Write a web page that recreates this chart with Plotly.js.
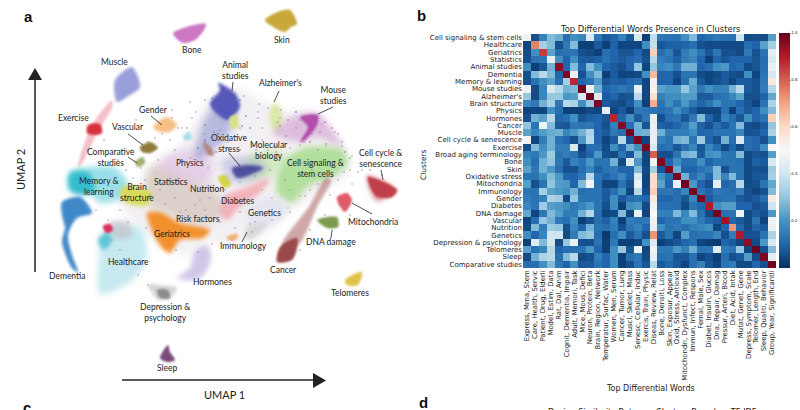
<!DOCTYPE html>
<html><head><meta charset="utf-8">
<script src="https://cdn.plot.ly/plotly-3.0.1.min.js"></script>
<style>html,body{margin:0;padding:0;background:#fff;overflow:hidden}#c{width:800px;height:410px}</style>
</head><body><div id="c"></div>
<script>
const clusters = ["Cell signaling & stem cells","Healthcare","Geriatrics","Statistics","Animal studies","Dementia","Memory & learning","Mouse studies","Alzheimer's","Brain structure","Physics","Hormones","Cancer","Muscle","Cell cycle & senescence","Exercise","Broad aging terminology","Bone","Skin","Oxidative stress","Mitochondria","Immunology","Gender","Diabetes","DNA damage","Vascular","Nutrition","Genetics","Depression & psychology","Telomeres","Sleep","Comparative studies"];
const words = ["Express, Mrna, Stem","Care, Health, Servic","Patient, Drug, Elderli","Model, Estim, Data","Rat, Dal, Anim","Cognit, Dementia, Impair","Adult, Memori, Task","Mice, Mous, Defici","Neuron, Protein, Beta","Brain, Region, Network","Temperatur, Surfac, Water","Women, Men, Serum","Cancer, Tumor, Lung","Muscl, Skelet, Mass","Senesc, Cellular, Induc","Exercis, Train, Physic","Diseas, Review, Relat","Bone, Densiti, Loss","Skin, Exposur, Appear","Oxid, Stress, Antioxid","Mitochondri, Dysfunct, Complex","Immun, Infect, Respons","Femal, Male, Sex","Diabet, Insulin, Glucos","Dna, Repair, Damag","Pressur, Arteri, Blood","Diet, Acid, Intak","Mutat, Genet, Gene","Depress, Symptom, Scale","Telomer, Length, End","Sleep, Qualiti, Behavior","Group, Year, Significantli"];
const presence = [
[.48,.06,.16,.28,.25,.12,.19,.17,.42,.14,.08,.10,.16,.08,.42,.03,.38,.14,.13,.13,.19,.28,.10,.12,.14,.13,.13,.40,.05,.06,.05,.22],
[.04,.75,.33,.28,.06,.14,.28,.03,.03,.08,.03,.09,.04,.04,.04,.19,.38,.07,.09,.09,.10,.12,.06,.05,.05,.05,.05,.05,.12,.10,.23,.33],
[.05,.19,.85,.23,.12,.13,.13,.06,.05,.03,.12,.10,.07,.07,.10,.05,.62,.12,.15,.07,.15,.19,.13,.07,.14,.06,.06,.05,.14,.06,.13,.45],
[.06,.13,.14,.45,.19,.10,.19,.08,.08,.09,.13,.10,.08,.10,.12,.06,.36,.15,.13,.09,.15,.17,.10,.03,.10,.07,.10,.10,.10,.07,.12,.42],
[.19,.03,.07,.26,.95,.10,.28,.10,.28,.19,.10,.08,.06,.10,.30,.04,.30,.17,.19,.14,.26,.26,.10,.12,.19,.21,.10,.12,.05,.07,.12,.46],
[.06,.28,.36,.28,.10,.97,.48,.06,.19,.28,.03,.08,.04,.04,.05,.19,.66,.10,.10,.06,.13,.13,.05,.04,.05,.08,.06,.05,.19,.04,.13,.42],
[.06,.13,.19,.23,.12,.33,.88,.10,.13,.21,.07,.09,.08,.10,.12,.04,.48,.10,.10,.04,.12,.25,.08,.04,.06,.08,.04,.08,.08,.06,.14,.55],
[.47,.05,.17,.42,.36,.26,.28,.99,.46,.26,.10,.12,.14,.12,.45,.04,.52,.23,.21,.21,.31,.23,.14,.19,.16,.16,.26,.36,.08,.06,.15,.36],
[.31,.05,.17,.31,.31,.21,.22,.42,.99,.44,.08,.10,.06,.07,.36,.04,.58,.16,.19,.19,.22,.22,.08,.08,.12,.13,.17,.23,.06,.06,.10,.24],
[.17,.14,.26,.33,.14,.36,.34,.19,.31,.97,.08,.06,.05,.08,.19,.03,.68,.13,.19,.13,.21,.14,.10,.13,.19,.13,.13,.10,.07,.04,.13,.34],
[.04,.04,.04,.19,.12,.03,.03,.03,.05,.04,.45,.04,.08,.03,.14,.13,.13,.12,.13,.19,.13,.08,.04,.04,.04,.13,.03,.12,.08,.10,.19,.28],
[.06,.26,.23,.36,.10,.12,.19,.07,.09,.10,.07,.88,.10,.19,.08,.14,.46,.06,.12,.13,.07,.14,.28,.10,.05,.16,.12,.07,.19,.10,.13,.62],
[.30,.13,.48,.28,.08,.07,.14,.13,.14,.10,.06,.16,.96,.12,.26,.07,.46,.09,.08,.10,.14,.22,.09,.06,.12,.08,.13,.28,.06,.05,.08,.30],
[.23,.17,.22,.25,.26,.17,.21,.26,.34,.10,.08,.14,.12,.99,.25,.26,.45,.26,.15,.15,.15,.19,.10,.11,.13,.13,.13,.17,.06,.07,.10,.34],
[.48,.04,.15,.26,.13,.10,.06,.21,.36,.10,.04,.08,.36,.06,.97,.04,.46,.16,.13,.26,.28,.13,.32,.10,.06,.26,.12,.42,.12,.10,.06,.19],
[.06,.28,.19,.26,.15,.15,.42,.03,.12,.12,.05,.19,.10,.26,.19,.97,.42,.12,.13,.07,.12,.17,.07,.17,.12,.05,.10,.05,.12,.10,.19,.50],
[.16,.14,.21,.32,.13,.15,.13,.06,.10,.21,.06,.05,.13,.07,.28,.04,.80,.06,.06,.13,.26,.28,.08,.19,.21,.13,.13,.28,.05,.07,.06,.22],
[.19,.12,.26,.30,.14,.08,.16,.13,.21,.13,.13,.26,.05,.43,.21,.04,.48,.97,.10,.19,.12,.12,.19,.10,.13,.13,.13,.12,.05,.09,.08,.42],
[.23,.14,.26,.21,.12,.06,.06,.12,.17,.09,.13,.14,.10,.10,.28,.05,.33,.07,.97,.25,.10,.10,.13,.15,.28,.06,.13,.13,.05,.06,.06,.32],
[.13,.13,.19,.28,.21,.10,.10,.14,.36,.13,.10,.13,.17,.10,.42,.04,.60,.19,.12,.98,.26,.12,.17,.10,.28,.17,.28,.13,.05,.07,.08,.33],
[.22,.06,.13,.30,.22,.21,.10,.28,.48,.12,.04,.04,.13,.07,.47,.04,.60,.23,.10,.48,.99,.21,.10,.06,.45,.10,.12,.36,.05,.06,.13,.24],
[.13,.13,.33,.23,.21,.19,.26,.12,.13,.13,.08,.12,.19,.04,.36,.05,.62,.13,.14,.12,.17,.98,.13,.10,.14,.13,.12,.15,.06,.04,.06,.28],
[.15,.13,.16,.34,.32,.05,.30,.13,.13,.13,.08,.19,.08,.12,.13,.10,.55,.10,.10,.12,.07,.17,.98,.08,.12,.13,.13,.08,.06,.08,.12,.55],
[.17,.13,.32,.22,.21,.19,.14,.17,.21,.13,.06,.19,.03,.19,.21,.05,.48,.12,.12,.12,.05,.13,.10,.90,.19,.22,.22,.10,.10,.06,.08,.40],
[.24,.04,.14,.28,.22,.15,.15,.26,.36,.12,.04,.05,.28,.04,.46,.04,.50,.16,.15,.28,.17,.28,.13,.05,.98,.12,.13,.47,.05,.08,.06,.21],
[.04,.12,.31,.26,.14,.12,.19,.03,.06,.12,.09,.16,.03,.15,.13,.14,.48,.10,.13,.13,.19,.19,.14,.10,.08,.92,.10,.08,.05,.13,.04,.48],
[.05,.28,.15,.32,.30,.06,.17,.10,.26,.13,.12,.15,.06,.13,.16,.10,.45,.19,.13,.14,.12,.15,.17,.19,.04,.10,.72,.10,.05,.10,.08,.46],
[.19,.10,.17,.40,.40,.05,.15,.28,.30,.12,.02,.12,.19,.08,.13,.06,.72,.08,.13,.04,.22,.12,.13,.13,.17,.06,.15,.90,.06,.06,.13,.34],
[.03,.44,.28,.40,.05,.31,.46,.06,.06,.13,.03,.14,.03,.03,.04,.19,.42,.03,.05,.07,.10,.12,.04,.03,.02,.10,.08,.04,.95,.05,.21,.42],
[.23,.13,.17,.36,.10,.12,.12,.13,.21,.10,.03,.19,.31,.07,.48,.04,.48,.14,.14,.21,.16,.25,.13,.13,.44,.15,.13,.31,.04,.99,.06,.28],
[.05,.26,.34,.36,.12,.28,.36,.05,.06,.15,.10,.19,.03,.12,.14,.05,.45,.12,.13,.07,.07,.12,.04,.06,.03,.12,.06,.08,.22,.05,.97,.45],
[.12,.12,.19,.28,.14,.10,.19,.08,.08,.13,.10,.19,.03,.06,.13,.07,.36,.08,.11,.08,.04,.12,.16,.07,.04,.13,.15,.05,.05,.10,.06,.99]
];
const colorbarTicks = [0.2,0.4,0.6,0.8,1.0];

// UMAP regions: [x, y] outline, UMAP axes shown without numbers
const cloud = [[135,190],[150,170],[175,150],[195,120],[215,92],[240,88],[262,100],[285,110],[310,112],[335,135],[350,160],[345,178],[325,190],[300,205],[275,225],[255,240],[225,245],[205,240],[185,255],[165,245],[148,235],[125,215],[118,195]];
const bone = [[173,33],[190,26],[206,24],[204,30],[195,40],[183,43],[175,37]];
const skin = [[265,20],[280,11],[290,10],[297,24],[291,27],[285,32],[275,28]];
const muscle = [[115,80],[132,67],[140,87],[127,97],[117,102]];
const exerciseTail = [[112,100],[104,108],[92,125],[82,150],[78,167],[81,165],[90,148],[100,128],[112,108]];
const exercise = [[88,125],[100,124],[102,133],[94,135],[87,133]];
const gender = [[153,127],[167,117],[177,125],[170,132],[160,132]];
const vascular = [[140,147],[150,142],[158,148],[150,153],[142,152]];
const comparative = [[135,162],[143,157],[145,163],[138,167]];
const memory = [[70,173],[113,167],[128,183],[123,197],[100,203],[90,193],[70,190]];
const memoryCore = [[70,173],[88,172],[95,190],[82,195],[70,190]];
const brainStruct = [[120,190],[130,185],[152,193],[147,205],[133,205],[122,200]];
const dementia = [[62,202],[80,197],[92,213],[77,218],[68,235],[72,255],[78,272],[72,268],[62,242],[65,228],[62,215]];
const healthcare = [[100,238],[113,225],[140,228],[147,248],[143,268],[130,282],[100,294],[98,272],[100,248]];
const healthEdge = [[98,240],[108,232],[112,240],[104,250]];
const healthGrey = [[110,222],[128,222],[132,236],[114,238]];
const healthRed = [[103,226],[110,224],[113,230],[106,233]];
const geriatrics = [[147,213],[160,212],[180,223],[210,230],[203,238],[180,240],[170,253],[162,248],[155,237]];
const hormones = [[177,278],[190,268],[195,250],[207,245],[211,255],[207,270],[199,279],[185,280]];
const depression = [[148,285],[160,285],[177,288],[170,298],[158,300],[152,293]];
const depressionCore = [[157,290],[168,290],[170,298],[160,298]];
const sleep = [[160,358],[168,345],[170,352],[175,360],[167,362]];
const animalBand = [[200,130],[215,105],[235,110],[225,140],[195,160]];
const animal = [[218,83],[235,93],[240,107],[227,120],[213,110],[210,103],[220,90]];
const alzheimer = [[275,103],[282,113],[278,133],[270,123],[270,110]];
const mouseHalo = [[273,133],[293,117],[318,113],[337,137],[343,147],[317,137],[300,142]];
const mouse = [[300,117],[318,115],[317,125],[305,140],[300,142],[308,127]];
const signaling = [[287,157],[307,147],[343,150],[348,163],[333,177],[307,187],[293,203],[277,193],[280,163]];
const molecular = [[250,155],[280,150],[285,165],[260,180],[240,175]];
const limeA = [[230,117],[237,115],[238,128],[231,128]];
const limeB = [[218,177],[226,175],[231,185],[224,188]];
const oxidative = [[232,168],[253,165],[263,168],[250,175],[237,178]];
const oxidativeHalo = [[222,160],[255,158],[268,168],[250,182],[230,182]];
const cyanDot = [[183,136],[189,132],[192,138],[186,141]];
const brownBit = [[203,142],[210,146],[214,155],[208,155]];
const physics = [[163,157],[193,150],[213,163],[207,183],[180,180],[160,170]];
const statistics = [[150,165],[190,180],[215,190],[225,215],[195,225],[165,212],[148,205]];
const diabetes = [[220,213],[223,197],[247,187],[270,178],[260,193],[240,207],[227,220]];
const genetics = [[247,207],[277,197],[287,213],[267,227],[250,227]];
const immunology = [[247,227],[267,223],[260,233],[247,240]];
const immunoOrange = [[227,237],[237,234],[237,239],[228,240]];
const cancerBand = [[326,178],[331,180],[318,205],[298,245],[282,245],[310,205]];
const cancer = [[280,247],[297,238],[297,248],[292,260],[277,262]];
const cycleHalo = [[367,175],[397,190],[377,202],[368,187]];
const cycle = [[368,177],[397,190],[392,197],[377,197],[370,187]];
const mitochondria = [[337,197],[347,193],[352,200],[345,212],[338,203]];
const dnaDamage = [[317,220],[337,217],[338,227],[327,228]];
const telomeres = [[345,280],[362,272],[358,285],[347,285]];

// sparse stray points
const strayX = [126,133,141,158,170,182,192,205,214,226,244,259,268,281,296,308,322,335,342,350,358,120,128,146,160,176,198,212,232,252,272,290,305,318,332,214,228,244,262,278,296,312,118,132,148,162,178,196,216,236,258,280,300,96,108,124,88,104,136,172,190,208,230,256,274,338,352,362,300,312,225,240,255,200,186,150,165,180,195,210,225,240,255,270,285,145,160,175,205,220,235,250,265,290,175,190,205,220,262,276,290,304,318,330,344,155,172,187,204,222,240,258,330,340,350,370,382,325,300,310,112,120,128,138,148];
const strayY = [170,178,168,160,140,128,118,100,96,90,96,104,108,110,112,118,124,132,146,158,172,210,222,228,236,250,252,244,240,232,220,212,196,184,176,132,142,138,128,122,128,134,160,150,142,134,128,112,108,100,112,118,120,210,220,200,150,140,120,110,102,168,150,150,146,180,184,170,160,170,200,212,222,200,210,195,204,212,205,198,190,182,176,170,180,180,190,198,210,222,228,224,216,190,150,158,142,130,140,152,148,142,150,166,172,138,118,128,134,122,128,118,195,205,215,170,175,215,250,230,240,250,265,275,285];
const strayPurpleX = [205,212,222,240,246,250,198,205,218,242,252,258,240,216];
const strayPurpleY = [125,98,88,100,116,128,148,140,134,126,146,156,150,152];
const strayMagentaX = [280,288,296,325,332,338,320,342,310,326,345,286];
const strayMagentaY = [126,120,112,122,128,134,132,142,142,144,152,136];
const strayGreenX = [268,276,284,300,326,350,352,300,288,272,262,310];
const strayGreenY = [150,146,143,145,146,170,156,196,208,198,190,190];

const regions = [
 [cloud,'rgba(226,220,228,0.42)',3.5],[statistics,'rgba(196,178,160,0.5)',4],[physics,'rgba(216,176,220,0.5)',4],
 [bone,'#cc76c4',1],[skin,'#c9a83a',.9],[muscle,'#9a9fdc',1.5],[exerciseTail,'rgba(236,160,170,0.65)',1],[exercise,'#d9303e',1.3],
 [gender,'rgba(245,185,122,.9)',1.6],[vascular,'#8f7a3a',1.2],[comparative,'#9fb070',1.2],[memory,'rgba(120,212,224,.75)',3],[memoryCore,'#35bccf',2.5],[brainStruct,'#d6d95a',2],
 [dementia,'#4089c8',1.5],[healthcare,'#c5e9ef',3],[healthEdge,'#5cc4d4',2],[healthGrey,'rgba(190,170,180,.45)',2],[healthRed,'#d8315b',1.2],
 [geriatrics,'#f2902e',2],[hormones,'#d2c6e6',2.5],[depression,'rgba(180,180,180,0.55)',1.5],[depressionCore,'#8c8c8c',1.2],[sleep,'#7a4a78',.8],
 [animalBand,'rgba(125,130,200,0.5)',3.5],[animal,'#5558b8',1.6],[alzheimer,'#dbe8a6',2.2],[mouseHalo,'rgba(190,120,190,0.42)',3],[mouse,'#b04eaa',1.2],
 [signaling,'rgba(170,221,146,.9)',3],[molecular,'rgba(205,232,184,.85)',3],[limeA,'#d8e08a',1.3],[limeB,'#d8d84a',1.2],[oxidativeHalo,'rgba(150,150,205,0.38)',3],[oxidative,'#4d4f9e',1.5],
 [cyanDot,'#a9dfe8',1],[brownBit,'#b08a80',1],[diabetes,'rgba(240,169,176,.85)',2.5],[genetics,'rgba(224,227,240,.85)',3],[immunology,'#d8d8d8',2],[immunoOrange,'#f3b072',.9],
 [cancerBand,'rgba(176,110,110,0.6)',1.5],[cancer,'#9a4a4a',1.2],[cycleHalo,'rgba(200,90,100,0.5)',2],[cycle,'#c0404a',1.2],[mitochondria,'#e05a68',1.2],[dnaDamage,'#7d9a4e',1.2],[telomeres,'#e0c34a',1]
];

const traces = regions.map(r => ({
  type:'scatter', mode:'lines', fill:'toself', xaxis:'x', yaxis:'y', hoverinfo:'skip', showlegend:false,
  x:r[0].map(p=>p[0]).concat(r[0][0][0]), y:r[0].map(p=>p[1]).concat(r[0][0][1]),
  fillcolor:r[1], line:{color:'rgba(0,0,0,0)',width:0,shape:'spline',smoothing:0.8}
}));
const blurs = regions.map(r=>r[2]);
const stray = (x,y,c)=>({type:'scatter',mode:'markers',x:x,y:y,xaxis:'x',yaxis:'y',hoverinfo:'skip',showlegend:false,marker:{size:1.8,color:c}});
traces.push(stray(strayX,strayY,'rgba(150,130,160,0.55)'));
traces.push(stray(strayPurpleX,strayPurpleY,'rgba(90,90,180,0.6)'));
traces.push(stray(strayMagentaX,strayMagentaY,'rgba(170,80,170,0.6)'));
traces.push(stray(strayGreenX,strayGreenY,'rgba(130,200,110,0.7)'));
traces.push({type:'heatmap',z:presence,x:words,y:clusters,xaxis:'x2',yaxis:'y2',zmin:0,zmax:1,
  colorscale:[[0,'#053061'],[.1,'#2166ac'],[.2,'#4393c3'],[.3,'#92c5de'],[.4,'#d1e5f0'],[.5,'#f7f7f7'],[.6,'#fddbc7'],[.7,'#f4a582'],[.8,'#d6604d'],[.9,'#b2182b'],[1,'#67001f']],
  colorbar:{x:779/800,xanchor:'left',y:1-268/410,yanchor:'bottom',len:235/410,thickness:11,xpad:0,ypad:0,outlinewidth:0,
    tickvals:colorbarTicks,ticktext:['0.2','0.4','0.6','0.8','1.0'],tickfont:{size:4,family:'DejaVu Sans',color:'#222'},ticklen:1,tickwidth:.4}});

const um = 'Lato, "Open Sans", sans-serif';
const dv = '"DejaVu Sans", sans-serif';
const labels = [
 ['Bone',192,50],['Skin',282,40],['Muscle',114,62],['Animal<br>studies',235,70],["Alzheimer's",280,83],['Mouse<br>studies',333,95],['Gender',153,110],['Exercise',73,118],['Vascular',128,127],['Comparative<br>studies',111,157],['Physics',190,163],['Oxidative<br>stress',229,143],['Molecular<br>biology',269,150],['Cell signaling &<br>stem cells',315,168],['Cell cycle &<br>senescence',381,158],['Memory &<br>learning',99,186],['Brain<br>structure',137,192],['Statistics',171,182],['Nutrition',207,189],['Diabetes',237,201],['Genetics',264,213],['Risk factors',198,219],['Geriatrics',172,234],['Immunology',243,246],['Mitochondria',373,222],['DNA damage',331,242],['Cancer',283,270],['Telomeres',350,293],['Healthcare',128,262],['Dementia',67,276],['Hormones',212,282],['Depression &<br>psychology',165,312],['Sleep',167,368]
];
const anns = labels.map(l=>({xref:'x',yref:'y',x:l[1],y:l[2],text:l[0],showarrow:false,xanchor:'center',yanchor:'middle',font:{family:um,size:8.5,color:'#222'}}));
const P = (t,x,y,o)=>Object.assign({xref:'paper',yref:'paper',x:x/800,y:1-y/410,text:t,showarrow:false,xanchor:'center',yanchor:'middle'},o);
anns.push(P('<b>a</b>',28,16,{font:{family:'Liberation Sans',size:15,color:'#111'}}));
anns.push(P('<b>b</b>',421,15,{font:{family:'Liberation Sans',size:15,color:'#111'}}));
anns.push(P('<b>c</b>',27,407,{font:{family:'Liberation Sans',size:15,color:'#111'}}));
anns.push(P('<b>d</b>',423,402,{font:{family:'Liberation Sans',size:15,color:'#111'}}));
anns.push(P('UMAP 1',224,394,{font:{family:um,size:11,color:'#222'}}));
anns.push(P('UMAP 2',21,170,{textangle:-90,font:{family:um,size:11,color:'#222'}}));
anns.push(P('Top Differential Words Presence in Clusters',650,29,{font:{family:dv,size:8.4,color:'#222'}}));
anns.push(P('Top Differential Words',650,388,{font:{family:dv,size:8,color:'#222'}}));
anns.push(P('Clusters',423,165,{textangle:-90,font:{family:dv,size:7.5,color:'#222'}}));
anns.push(P('Design Similarity Between Clusters Based on TF-IDF',652,412,{font:{family:dv,size:8,color:'#222'}}));

const leaders = [[151,116,162,125],[128,134,143,145],[128,157,137,163],[233,82,232,91],[279,91,274,102],[333,107,318,114],[229,153,240,166],[381,170,383,180],[352,203,372,214],[332,230,331,238],[247,232,242,242]];
const shapes = leaders.map(l=>({type:'line',xref:'x',yref:'y',x0:l[0],y0:l[1],x1:l[2],y1:l[3],line:{color:'#222',width:.8}}));
shapes.push({type:'line',xref:'x',yref:'y',x0:35,y0:272,x1:35,y1:78,line:{color:'#222',width:1.5}});
shapes.push({type:'path',xref:'x',yref:'y',path:'M28,80 L35,68 L42,80 Z',fillcolor:'#222',line:{width:0}});
shapes.push({type:'line',xref:'x',yref:'y',x0:122,y0:380,x1:315,y1:380,line:{color:'#222',width:1.5}});
shapes.push({type:'path',xref:'x',yref:'y',path:'M313,373 L326,380.5 L313,388 Z',fillcolor:'#222',line:{width:0}});

const layout = {
  width:800,height:410,margin:{l:0,r:0,t:0,b:0},paper_bgcolor:'#fff',plot_bgcolor:'rgba(0,0,0,0)',showlegend:false,
  xaxis:{domain:[0,.525],range:[0,420],visible:false,fixedrange:true},
  yaxis:{domain:[0,1],range:[410,0],visible:false,fixedrange:true},
  xaxis2:{domain:[523/800,776/800],anchor:'y2',tickangle:-90,tickfont:{family:dv,size:6.9,color:'#222'},ticks:'',ticklen:0,showgrid:false,automargin:false,tickmode:'array',tickvals:words,ticktext:words,zeroline:false},
  yaxis2:{domain:[1-268/410,1-34/410],anchor:'x2',autorange:'reversed',tickfont:{family:dv,size:7,color:'#222'},ticks:'',ticklen:0,showgrid:false,automargin:false,tickmode:'array',tickvals:clusters,ticktext:clusters,zeroline:false},
  annotations:anns,shapes:shapes
};
Plotly.newPlot('c',traces,layout,{displayModeBar:false,staticPlot:true}).then(gd=>{
  gd.querySelectorAll('.scatterlayer .trace').forEach((el,i)=>{ if(i<blurs.length) el.style.filter='blur('+blurs[i]+'px)'; });
  gd.querySelectorAll('.heatmaplayer image').forEach(el=>{ el.style.filter='blur(0.5px)'; });
});
</script></body></html>
